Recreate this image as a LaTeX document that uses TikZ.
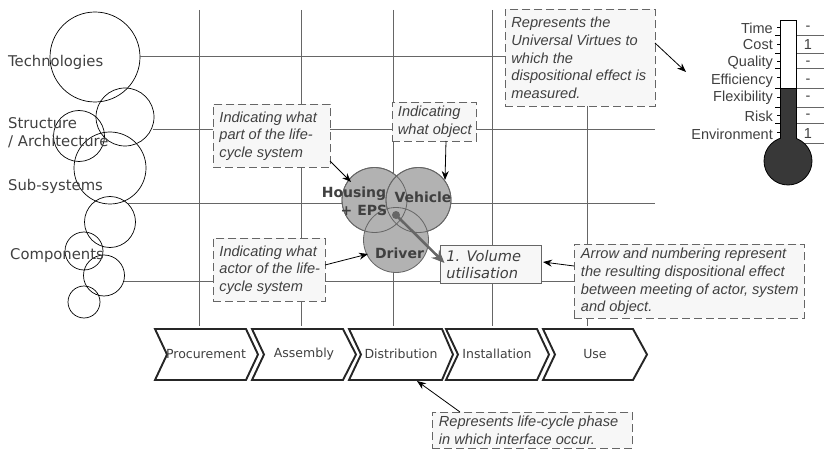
\documentclass[tikz,border=0pt]{standalone}
\usepackage{fontspec}
\setmainfont{Liberation Sans}
\newfontfamily\vfont{DejaVu Sans}
\usetikzlibrary{arrows.meta}
\definecolor{ink}{HTML}{404040}
\definecolor{gridc}{HTML}{666666}
\definecolor{notefill}{HTML}{F7F7F7}
\definecolor{venn}{HTML}{B2B2B2}
\definecolor{thermo}{HTML}{383838}
\tikzset{
  x=1pt,y=-1pt,
  every node/.style={text=ink,inner sep=0pt},
  ring/.style={circle,draw=black,line width=0.7pt,inner sep=0pt},
  gridline/.style={draw=gridc,line width=1pt},
  notebox/.style={draw=gridc,fill=notefill,line width=0.9pt,dash pattern=on 8pt off 4pt,anchor=north west,align=left,inner sep=0pt,font=\fontsize{14.6}{17.7}\selectfont\itshape},
  pointer/.style={draw=black,line width=0.8pt,-{Stealth[length=9pt,width=7pt]}},
  vennc/.style={circle,draw=gridc,fill=venn,line width=0.8pt,minimum size=65pt,inner sep=0pt},
  vennlab/.style={font=\vfont\fontsize{14}{16}\selectfont\bfseries,text=ink},
  axislab/.style={font=\vfont\fontsize{14.8}{18}\selectfont,anchor=west,align=left},
  phase/.style={draw=black!85,line width=1.9pt,line join=miter,fill=white},
  phaselab/.style={font=\vfont\fontsize{12.5}{15}\selectfont},
  virtue/.style={font=\fontsize{14.5}{15}\selectfont,anchor=east},
  score/.style={font=\fontsize{14.5}{15}\selectfont},
  scale line/.style={draw=gridc,line width=0.9pt},
}
\begin{document}
\begin{tikzpicture}
\useasboundingbox (0,0) rectangle (824,449);
% circles
\node[ring,minimum size=90pt] (c1) at (95,57) {};
\node[ring,minimum size=58pt] (c2) at (125,117) {};
\node[ring,minimum size=51pt] (c3) at (79,136) {};
\node[ring,minimum size=72pt] (c4) at (110,168) {};
\node[ring,minimum size=51pt] (c5) at (110,222) {};
\node[ring,minimum size=38pt] (c6) at (84,251) {};
\node[ring,minimum size=41pt] (c7) at (104,275.5) {};
\node[ring,minimum size=32pt] (c8) at (84,302) {};
% anchors of the grid
\coordinate (s0) at (153,130);
\coordinate (s1) at (655,130);
\coordinate (u0) at (128,203.5);
\coordinate (u1) at (655,203.5);
\coordinate (k0) at (124,281);
\coordinate (t1) at (199,10);  \coordinate (b1) at (199,326);
\coordinate (t2) at (301,10);  \coordinate (b2) at (301,326);
\coordinate (t3) at (393,10);  \coordinate (b3) at (393,326);
\coordinate (t4) at (492,10);  \coordinate (b4) at (492,326);
\coordinate (b5) at (587,326);
% note boxes are placed after the grid lines, so name positions first
\coordinate (uniSW) at (587,106);
\coordinate (arrN) at (587,244);
\coordinate (arrW) at (574,281);
\coordinate (uniW) at (505,57);
% grid
\draw[gridline] (c1.east) -- (uniW);
\draw[gridline] (s0) -- (s1);
\draw[gridline] (u0) -- (u1);
\draw[gridline] (k0) -- (arrW);
\draw[gridline] (t1) -- (b1);
\draw[gridline] (t2) -- (b2);
\draw[gridline] (t3) -- (b3);
\draw[gridline] (t4) -- (b4);
\draw[gridline] (uniSW) -- (b5);
% axis labels
\node[axislab] (l1) at (8,62) {Technologies};
\node[axislab] (l2) at (8,133) {Structure\\/ Architecture};
\node[axislab] (l3) at (8,186) {Sub-systems};
\node[axislab] (l4) at (10,256) {Components};
% venn
\node[vennc] (housing) at (374.5,200) {};
\node[vennc] (vehicle) at (418.5,200) {};
\node[vennc] (driver) at (396,240) {};
\draw[draw=gridc,line width=0.8pt] (374.5,200) circle[radius=32.5];
\draw[draw=gridc,line width=0.8pt] (418.5,200) circle[radius=32.5];
\node[vennlab] at (354,194) {Housing};
\node[vennlab] at (364,210) {+ EPS};
\node[vennlab] at (423,197) {Vehicle};
\node[vennlab] at (399.5,253.5) {Driver};
\node[circle,fill=gridc,minimum size=8pt] (dot) at (396,215) {};
% notes
\node[notebox,minimum width=117pt,minimum height=63pt] (part) at (213,104) {\hspace{5pt}\parbox{110pt}{Indicating what\\part of the life-\\cycle system}};
\node[notebox,minimum width=112pt,minimum height=63pt] (actor) at (213,238) {\hspace{5pt}\parbox{105pt}{Indicating what\\actor of the life-\\cycle system}};
\node[notebox,minimum width=84pt,minimum height=39pt] (object) at (392,102) {\hspace{5pt}\parbox{78pt}{Indicating\\what object}};
\node[notebox,minimum width=150pt,minimum height=97pt] (uni) at (505,9) {\hspace{5pt}\parbox{143pt}{Represents the\\Universal Virtues to\\which the\\dispositional effect is\\measured.}};
\node[notebox,minimum width=230pt,minimum height=74pt] (arrow) at (574,244) {\hspace{5pt}\parbox{222pt}{Arrow and numbering represent\\the resulting dispositional effect\\between meeting of actor, system\\and object.}};
\node[notebox,minimum width=200pt,minimum height=36pt] (life) at (432,412) {\hspace{5pt}\parbox{192pt}{Represents life-cycle phase\\in which interface occur.}};
\node[draw=gridc,fill=notefill,line width=0.9pt,anchor=north west,minimum width=101pt,minimum height=38pt,align=left,font=\vfont\fontsize{14.6}{17}\selectfont\itshape] (volume) at (440,245) {\hspace{5pt}\parbox{94pt}{1. Volume\\utilisation}};
% result arrow
\coordinate (resultTip) at (444.5,263);
\draw[draw=gridc,line width=2.6pt,-{Stealth[length=13pt,width=11pt]}] (dot.center) -- (resultTip);
% pointers
\coordinate (thermoTip) at (686,72);
\draw[pointer] (330,161) -- (351,182);
\draw[pointer] (446,141) -- (445,180);
\draw[pointer] (325,265) -- (368,254);
\draw[pointer] (655,43) -- (thermoTip);
\draw[pointer] (574,266) -- (543,262);
\coordinate (p3) at (417,381);
% phases
\path[phase] (155,329) -- (246,329) -- (258,354.5) -- (246,380) -- (155,380) -- (167,354.5) -- cycle;
\path[phase] (252,329) -- (343,329) -- (356,354.5) -- (343,380) -- (252,380) -- (264,354.5) -- cycle;
\path[phase] (349,329) -- (442,329) -- (453,354.5) -- (442,380) -- (349,380) -- (361,354.5) -- cycle;
\path[phase] (446,329) -- (537,329) -- (549,354.5) -- (537,380) -- (446,380) -- (458,354.5) -- cycle;
\path[phase] (543,329) -- (633,329) -- (647,354.5) -- (633,380) -- (543,380) -- (555,354.5) -- cycle;
\node[phaselab] (ph1) at (206,354.5) {Procurement};
\node[phaselab] (ph2) at (304,354) {Assembly};
\node[phaselab] (ph3) at (401,354) {Distribution};
\node[phaselab] (ph4) at (497,354) {Installation};
\node[phaselab] (ph5) at (595,354) {Use};
\draw[pointer] (460,412) -- (p3);
% thermometer
\foreach \y in {35.5,53,68.5,88,107,123.5,143} \draw[scale line] (796,\y) -- (824,\y);
\foreach \y in {35.5,53,68.5,88,107,123.5} \draw[black,line width=0.8pt] (775,\y) -- (780,\y);
\foreach \y in {27,44,61,77,97,115,132} \draw[black,line width=0.8pt] (777,\y) -- (780,\y);
\draw[black,line width=1pt,fill=white] (780,21) rectangle (796,140);
\draw[black,line width=0.8pt,fill=thermo] (780,88) rectangle (796,145);
\node[circle,draw=black,line width=0.8pt,fill=thermo,minimum size=48pt] (bulb) at (788,161) {};
\fill[thermo] (780.5,130) rectangle (795.5,145);
\node[virtue] at (773,28) {Time};
\node[virtue] at (773,45) {Cost};
\node[virtue] at (773,63) {Quality};
\node[virtue] at (773,81) {Efficiency};
\node[virtue] at (773,98) {Flexibility};
\node[virtue] at (773,116) {Risk};
\node[virtue] at (773,134) {Environment};
\node[score] at (808,28) {-};
\node[score] at (808,45) {1};
\node[score] at (808,63) {-};
\node[score] at (808,81) {-};
\node[score] at (808,98) {-};
\node[score] at (808,116) {-};
\node[score] at (808,134) {1};
\end{tikzpicture}
\end{document}
